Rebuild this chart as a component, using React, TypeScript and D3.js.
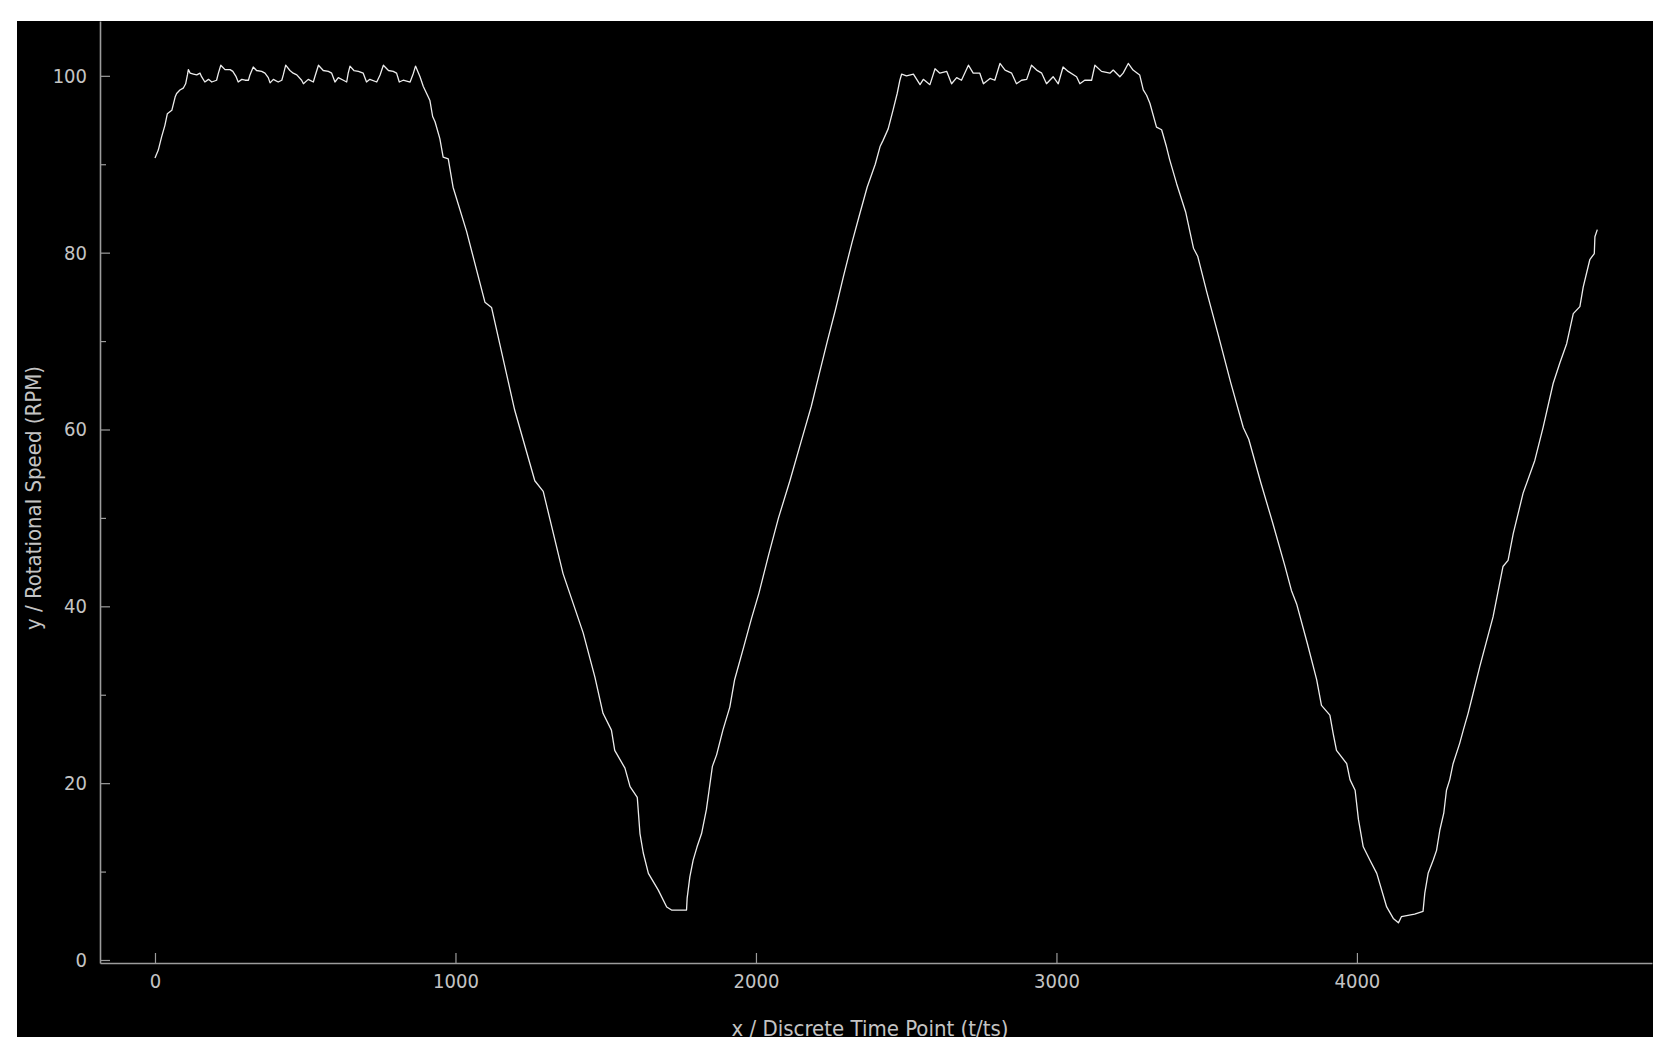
import * as d3 from 'd3';
import { FunctionComponent, useEffect, useRef } from "react";

// [time point, rpm], one array per phase
const startAndPlateau1: [number, number][] = [
    [0, 90.7], [11, 91.6], [22, 93.1], [33, 94.4], [41, 95.7], [56, 96.1], [67, 97.6], [72, 98.0],
    [83, 98.4], [94, 98.6], [102, 99.1], [108, 100.1], [111, 100.7], [117, 100.3], [128, 100.2],
    [139, 100.1], [150, 100.3], [155, 99.9], [166, 99.3], [178, 99.6], [189, 99.3], [205, 99.5],
    [211, 100.3], [219, 101.2], [233, 100.7], [250, 100.7], [259, 100.5], [270, 99.9], [277, 99.3],
    [289, 99.6], [300, 99.5], [311, 99.5], [316, 100.1], [327, 101.0], [338, 100.6], [355, 100.5],
    [366, 100.3], [377, 99.8], [383, 99.2], [394, 99.6], [410, 99.3], [422, 99.5], [427, 100.1],
    [435, 101.2], [449, 100.6], [460, 100.3], [472, 100.1], [488, 99.5], [494, 99.1], [510, 99.6],
    [527, 99.3], [532, 99.9], [544, 101.2], [560, 100.6], [577, 100.5], [588, 100.3], [599, 99.3],
    [610, 99.8], [627, 99.5], [638, 99.3], [643, 100.3], [649, 101.1], [662, 100.6], [677, 100.5],
    [693, 100.3], [704, 99.3], [715, 99.6], [738, 99.3], [749, 100.1], [760, 101.2], [777, 100.6],
    [793, 100.5], [804, 100.3], [813, 99.3], [826, 99.5], [849, 99.3], [860, 100.3], [867, 101.1],
    [882, 99.9], [893, 98.8], [904, 98.0], [915, 97.2], [924, 95.4], [932, 94.8], [948, 92.9]
];

const rampDown1: [number, number][] = [
    [959, 90.8], [976, 90.6], [992, 87.4], [1037, 82.4], [1098, 74.4], [1120, 73.8], [1197, 62.2],
    [1264, 54.2], [1292, 53.0], [1358, 43.7], [1425, 37.0], [1464, 32.0], [1491, 27.9], [1519, 26.0],
    [1530, 23.7], [1564, 21.7], [1581, 19.6], [1605, 18.4], [1614, 14.3], [1625, 12.1], [1642, 9.8],
    [1675, 7.9], [1703, 6.0], [1719, 5.65], [1769, 5.65]
];

const rampUp1: [number, number][] = [
    [1771, 7.0], [1780, 9.4], [1791, 11.3], [1804, 12.8], [1819, 14.3], [1835, 17.0], [1844, 19.2],
    [1855, 21.9], [1869, 23.2], [1890, 26.0], [1913, 28.6], [1929, 31.7], [1960, 35.5], [1985, 38.6],
    [2010, 41.5], [2042, 45.8], [2075, 50.0], [2113, 54.2], [2150, 58.6], [2184, 62.6], [2210, 66.2],
    [2237, 69.9], [2265, 73.6], [2291, 77.3], [2320, 81.2], [2344, 84.2], [2370, 87.4], [2397, 90.0],
    [2413, 92.0], [2423, 92.7], [2440, 94.0], [2456, 96.1], [2470, 98.0], [2479, 99.5]
];

const plateau2: [number, number][] = [
    [2485, 100.2], [2501, 100.0], [2524, 100.2], [2535, 99.6], [2546, 99.0], [2557, 99.6], [2579, 99.0],
    [2596, 100.8], [2612, 100.3], [2635, 100.5], [2651, 99.1], [2668, 99.8], [2684, 99.5], [2707, 101.2],
    [2723, 100.3], [2745, 100.3], [2757, 99.1], [2779, 99.7], [2795, 99.5], [2812, 101.4], [2829, 100.65],
    [2851, 100.3], [2867, 99.1], [2884, 99.5], [2901, 99.6], [2917, 101.2], [2934, 100.65], [2951, 100.3],
    [2967, 99.1], [2989, 99.9], [3006, 99.1], [3022, 101.0], [3039, 100.5], [3067, 99.9], [3078, 99.1],
    [3094, 99.5], [3117, 99.5], [3128, 101.2], [3150, 100.5], [3178, 100.3], [3189, 100.65], [3211, 99.9],
    [3222, 100.3], [3239, 101.4], [3255, 100.65], [3277, 100.1], [3289, 98.4], [3300, 97.8], [3311, 96.9],
    [3333, 94.2], [3350, 93.9], [3366, 92.0], [3377, 90.5]
];

const rampDown2: [number, number][] = [
    [3400, 87.8], [3430, 84.6], [3456, 80.5], [3470, 79.6], [3500, 75.6], [3540, 70.5], [3580, 65.3],
    [3622, 60.2], [3640, 58.9], [3680, 54.0], [3720, 49.4], [3760, 44.6], [3782, 41.8], [3800, 40.2],
    [3835, 35.8], [3866, 31.7], [3882, 28.8], [3910, 27.7], [3921, 25.6], [3932, 23.7], [3966, 22.2],
    [3977, 20.4], [3994, 19.2], [4005, 15.9], [4021, 12.8], [4043, 11.3], [4066, 9.8], [4099, 6.0],
    [4121, 4.7], [4138, 4.2], [4148, 4.9], [4192, 5.2], [4220, 5.5]
];

const rampUp2: [number, number][] = [
    [4226, 7.6], [4237, 9.8], [4254, 11.3], [4265, 12.4], [4276, 14.7], [4289, 16.6], [4298, 19.2],
    [4309, 20.4], [4320, 22.2], [4342, 24.5], [4354, 26.0], [4370, 27.9], [4387, 30.2], [4409, 33.2],
    [4453, 38.8], [4486, 44.5], [4503, 45.2], [4520, 48.2], [4553, 52.8], [4592, 56.5], [4620, 60.3],
    [4653, 65.2], [4675, 67.5], [4698, 69.7], [4720, 73.1], [4742, 73.9], [4753, 76.1], [4775, 79.2],
    [4790, 79.9], [4792, 81.8], [4800, 82.6]
];

const xTicks = [0, 1000, 2000, 3000, 4000];
const yMajorTicks = [0, 20, 40, 60, 80, 100];
const yMinorTicks = [10, 30, 50, 70, 90];
const xDomain = [-183, 4982];
const yDomain = [-0.34, 106.2];

const xTitle = "x / Discrete Time Point (t/ts)";
const yTitle = "y / Rotational Speed (RPM)";

const App: FunctionComponent = () => {
    const width = 1673;
    const height = 1060;
    const panel = { left: 17, top: 21, right: 1653, bottom: 1037 };
    const plot = { left: 100, top: 21, right: 1652, bottom: 963 };
    const svgRef = useRef<SVGSVGElement>(null);

    useEffect(() => {
        const svg = d3.select(svgRef.current!);
        svg.selectAll('*').remove();

        const font = '"DejaVu Sans Condensed", "DejaVu Sans", sans-serif';
        const axisColor = '#9c9c9c';
        const textColor = '#c4c4c4';

        svg.append('defs').append('clipPath')
            .attr('id', 'panel-clip')
            .append('rect')
            .attr('x', panel.left).attr('y', panel.top)
            .attr('width', panel.right - panel.left)
            .attr('height', panel.bottom - panel.top);

        svg.append('rect')
            .attr('x', panel.left).attr('y', panel.top)
            .attr('width', panel.right - panel.left)
            .attr('height', panel.bottom - panel.top)
            .attr('fill', '#000');

        const x = d3.scaleLinear(xDomain, [plot.left, plot.right]);
        const y = d3.scaleLinear(yDomain, [plot.bottom, plot.top]);

        // minor y ticks first, without labels
        svg.append('g')
            .attr('transform', `translate(${plot.left},0)`)
            .call(d3.axisLeft(y).tickValues(yMinorTicks).tickSize(-6).tickFormat(() => ''))
            .call(g => g.select('.domain').remove())
            .call(g => g.selectAll('line').attr('stroke', axisColor).attr('stroke-width', 1.2));

        const yAxis = svg.append('g')
            .attr('transform', `translate(${plot.left},0)`)
            .call(d3.axisLeft(y).tickValues(yMajorTicks).tickSize(-10).tickSizeOuter(0).tickPadding(13).tickFormat(d3.format('d')));

        const xAxis = svg.append('g')
            .attr('transform', `translate(0,${plot.bottom})`)
            .call(d3.axisBottom(x).tickValues(xTicks).tickSize(-10).tickSizeOuter(0).tickPadding(11).tickFormat(d3.format('d')));

        [yAxis, xAxis].forEach(g => {
            g.select('.domain').attr('stroke', axisColor).attr('stroke-width', 1.6);
            g.selectAll('.tick line').attr('stroke', axisColor).attr('stroke-width', 1.2);
            g.selectAll('.tick text')
                .attr('fill', textColor)
                .style('font-family', font)
                .style('font-size', '20px');
        });

        const line = d3.line<[number, number]>()
            .x(d => x(d[0]))
            .y(d => y(d[1]));

        const data = [...startAndPlateau1, ...rampDown1, ...rampUp1, ...plateau2, ...rampDown2, ...rampUp2];

        svg.append('path')
            .attr('fill', 'none')
            .attr('stroke', '#ececec')
            .attr('stroke-width', 1.3)
            .attr('stroke-linejoin', 'round')
            .attr('d', line(data));

        svg.append('text')
            .attr('transform', `translate(41,498) rotate(-90)`)
            .attr('text-anchor', 'middle')
            .attr('fill', textColor)
            .style('font-family', font)
            .style('font-size', '22px')
            .text(yTitle);

        svg.append('text')
            .attr('x', 870)
            .attr('y', 1036)
            .attr('text-anchor', 'middle')
            .attr('clip-path', 'url(#panel-clip)')
            .attr('fill', textColor)
            .style('font-family', font)
            .style('font-size', '22px')
            .text(xTitle);
    }, []);

    return <div style={{ position: 'absolute', left: 0, top: 0, background: '#fff' }}>
        <svg ref={svgRef} width={width} height={height} viewBox={`0 0 ${width} ${height}`} />
    </div>
}

export default App;
